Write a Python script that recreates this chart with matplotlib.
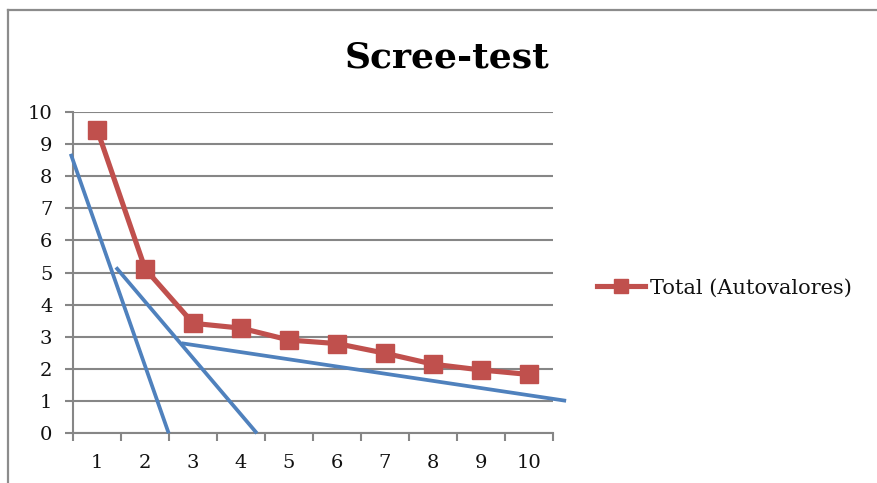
import matplotlib
matplotlib.use("Agg")
import matplotlib.pyplot as plt
from matplotlib.lines import Line2D

# Data
categories = [1, 2, 3, 4, 5, 6, 7, 8, 9, 10]
eigenvalues = [9.43, 5.11, 3.42, 3.27, 2.90, 2.79, 2.49, 2.15, 1.97, 1.83]
series_label = "Total (Autovalores)"
title = "Scree-test"
yticks = [0, 1, 2, 3, 4, 5, 6, 7, 8, 9, 10]

# Hand-drawn scree guide lines (in data coordinates: category position, value)
guide1_x = [0.446, 2.49]
guide1_y = [8.69, 0.0]
guide2_x = [1.39, 4.33]
guide2_y = [5.16, 0.0]
guide3_x = [2.76, 10.78]
guide3_y = [2.80, 1.01]

RED = "#C0504D"
BLUE = "#4F81BD"
GRID = "#868686"
FONT = "DejaVu Serif"

fig = plt.figure(figsize=(8.78, 4.83), dpi=100)
ax = fig.add_axes([73.3 / 878, 1 - 433.3 / 483, (552.7 - 73.3) / 878, (433.3 - 111.7) / 483])

ax.plot(categories, eigenvalues, color=RED, lw=3.7, marker="s", markersize=12.5,
        markerfacecolor=RED, markeredgecolor=RED, label=series_label, zorder=4,
        clip_on=False)

for gx, gy in [(guide1_x, guide1_y), (guide2_x, guide2_y), (guide3_x, guide3_y)]:
    ax.plot(gx, gy, color=BLUE, lw=2.7, clip_on=False, zorder=3, solid_capstyle="butt")

ax.set_xlim(0.5, 10.5)
ax.set_ylim(0, 10)
ax.set_yticks(yticks)
ax.set_xticks(categories)
ax.set_xticks([c + 0.5 for c in [0] + categories], minor=True)
ax.yaxis.grid(True, color=GRID, lw=1.5)
ax.set_axisbelow(True)

for s in ["top", "right"]:
    ax.spines[s].set_visible(False)
for s in ["left", "bottom"]:
    ax.spines[s].set_color(GRID)
    ax.spines[s].set_linewidth(1.5)

ax.tick_params(axis="y", direction="out", length=6, width=1.5, color=GRID, pad=9,
               labelsize=14, labelcolor="#111111")
ax.tick_params(axis="x", which="major", length=0, pad=15, labelsize=14, labelcolor="#111111")
ax.tick_params(axis="x", which="minor", direction="out", length=6, width=1.5, color=GRID)
for lbl in ax.get_xticklabels() + ax.get_yticklabels():
    lbl.set_fontfamily(FONT)

fig.text(447 / 878, 1 - 58 / 483, title, ha="center", va="center",
         fontsize=26, fontweight="bold", fontfamily=FONT, color="#000000")

leg = fig.legend(loc="center left", bbox_to_anchor=(597 / 878, 1 - 288 / 483),
                 frameon=False, borderaxespad=0, borderpad=0, handlelength=2.3,
                 handletextpad=0.25, markerscale=0.85, prop={"family": FONT, "size": 15})
for t in leg.get_texts():
    t.set_color("#111111")

# Chart frame (left and top edges visible)
fig.add_artist(Line2D([8.3 / 878, 8.3 / 878], [0, 1 - 10 / 483], color="#8C8C8C", lw=1.6,
                      transform=fig.transFigure))
fig.add_artist(Line2D([8.3 / 878, 1], [1 - 10 / 483, 1 - 10 / 483], color="#8C8C8C", lw=1.6,
                      transform=fig.transFigure))

fig.savefig("out.png", dpi=100)
